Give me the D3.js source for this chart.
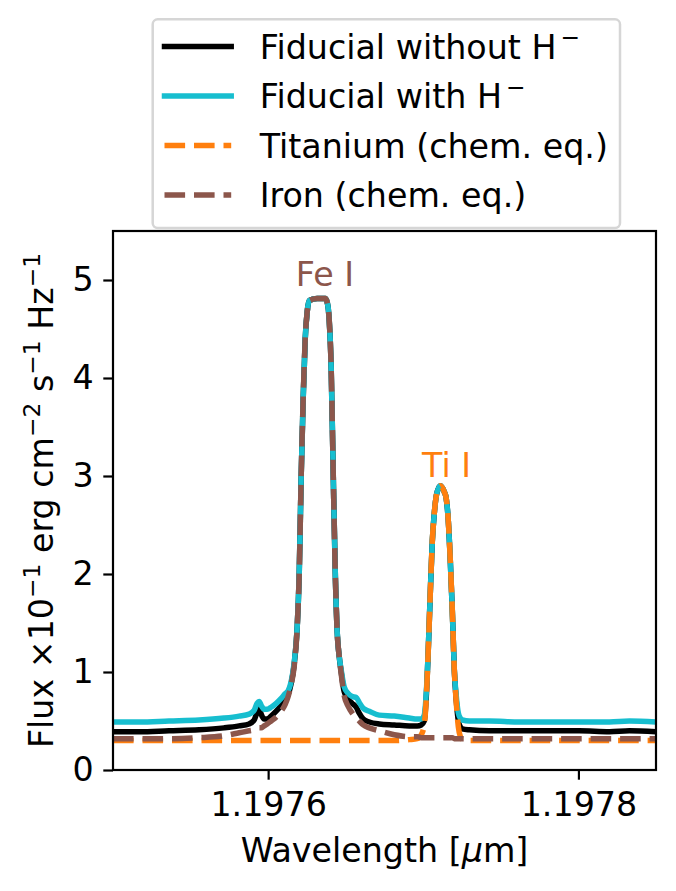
<!DOCTYPE html>
<html>
<head>
<meta charset="utf-8">
<script src="https://cdn.jsdelivr.net/npm/d3@7"></script>
<style>
  html, body { margin: 0; padding: 0; background: #fff; }
  svg { display: block; font-family: "DejaVu Sans", sans-serif; }
</style>
</head>
<body>
<div id="container"></div>
<script>
// Wavelength grid [micron] (denser around the lines)
const wavelength = [
  1.1975000, 1.1975168, 1.1975361, 1.1975555, 1.1975716, 1.1975813, 1.1975877, 1.1975910, 1.1975929, 1.1975942,
  1.1975955, 1.1975974, 1.1975994, 1.1976019, 1.1976052, 1.1976084, 1.1976110, 1.1976129, 1.1976148, 1.1976168,
  1.1976187, 1.1976200, 1.1976213, 1.1976226, 1.1976239, 1.1976252, 1.1976265, 1.1976316, 1.1976368, 1.1976381,
  1.1976394, 1.1976406, 1.1976419, 1.1976432, 1.1976445, 1.1976458, 1.1976471, 1.1976490, 1.1976516, 1.1976542,
  1.1976568, 1.1976587, 1.1976613, 1.1976652, 1.1976716, 1.1976813, 1.1976910, 1.1976961, 1.1976987, 1.1977006,
  1.1977019, 1.1977032, 1.1977045, 1.1977058, 1.1977071, 1.1977084, 1.1977097, 1.1977110, 1.1977123, 1.1977135,
  1.1977148, 1.1977161, 1.1977174, 1.1977187, 1.1977200, 1.1977213, 1.1977226, 1.1977239, 1.1977252, 1.1977297,
  1.1977426, 1.1977619, 1.1977813, 1.1978006, 1.1978200, 1.1978329, 1.1978500
];

// Flux x10^-1 erg cm^-2 s^-1 Hz^-1
const fluxWithoutHminus = [
  0.39, 0.39, 0.40, 0.41, 0.43, 0.45, 0.47, 0.51, 0.59, 0.63,
  0.57, 0.52, 0.52, 0.55, 0.60, 0.66, 0.72, 0.77, 0.88, 1.08,
  1.45, 1.98, 3.00, 3.80, 4.40, 4.68, 4.79, 4.81, 4.81, 4.77,
  4.58, 4.12, 3.07, 2.06, 1.41, 1.16, 1.00, 0.80, 0.72, 0.68,
  0.64, 0.58, 0.52, 0.49, 0.47, 0.46, 0.45, 0.45, 0.46, 0.50,
  0.74, 1.22, 1.80, 2.33, 2.62, 2.80, 2.87, 2.90, 2.88, 2.84,
  2.77, 2.55, 2.14, 1.63, 1.02, 0.70, 0.50, 0.44, 0.42, 0.41,
  0.40, 0.40, 0.40, 0.40, 0.39, 0.40, 0.39
];
const fluxWithHminus = [
  0.49, 0.49, 0.50, 0.51, 0.53, 0.55, 0.57, 0.61, 0.68, 0.70,
  0.66, 0.62, 0.62, 0.64, 0.68, 0.73, 0.78, 0.81, 0.90, 1.10,
  1.45, 1.98, 3.00, 3.80, 4.40, 4.68, 4.79, 4.81, 4.81, 4.77,
  4.58, 4.12, 3.07, 2.06, 1.41, 1.16, 1.02, 0.85, 0.78, 0.75,
  0.74, 0.69, 0.63, 0.60, 0.56, 0.55, 0.53, 0.52, 0.52, 0.56,
  0.78, 1.22, 1.80, 2.33, 2.62, 2.80, 2.87, 2.90, 2.88, 2.84,
  2.77, 2.55, 2.14, 1.63, 1.02, 0.75, 0.58, 0.53, 0.51, 0.50,
  0.50, 0.49, 0.49, 0.49, 0.49, 0.50, 0.49
];
const fluxTitanium = [
  0.30, 0.30, 0.30, 0.30, 0.30, 0.30, 0.30, 0.30, 0.30, 0.30,
  0.30, 0.30, 0.30, 0.30, 0.30, 0.30, 0.30, 0.30, 0.30, 0.30,
  0.30, 0.30, 0.30, 0.30, 0.30, 0.30, 0.30, 0.30, 0.30, 0.30,
  0.30, 0.30, 0.30, 0.30, 0.30, 0.30, 0.30, 0.30, 0.30, 0.30,
  0.30, 0.30, 0.30, 0.30, 0.30, 0.30, 0.31, 0.32, 0.36, 0.46,
  0.72, 1.22, 1.80, 2.33, 2.62, 2.80, 2.87, 2.90, 2.88, 2.84,
  2.77, 2.55, 2.14, 1.63, 1.02, 0.68, 0.44, 0.34, 0.31, 0.30,
  0.30, 0.30, 0.30, 0.30, 0.30, 0.30, 0.30
];
const fluxIron = [
  0.32, 0.32, 0.32, 0.33, 0.35, 0.38, 0.40, 0.41, 0.42, 0.43,
  0.43, 0.45, 0.47, 0.50, 0.54, 0.60, 0.67, 0.75, 0.87, 1.06,
  1.45, 1.98, 3.00, 3.80, 4.40, 4.68, 4.79, 4.81, 4.81, 4.77,
  4.58, 4.12, 3.07, 2.06, 1.41, 1.16, 0.98, 0.76, 0.65, 0.58,
  0.53, 0.50, 0.46, 0.43, 0.40, 0.36, 0.34, 0.34, 0.33, 0.33,
  0.33, 0.33, 0.33, 0.33, 0.33, 0.33, 0.33, 0.33, 0.33, 0.33,
  0.33, 0.33, 0.33, 0.33, 0.32, 0.32, 0.32, 0.32, 0.32, 0.32,
  0.32, 0.32, 0.32, 0.32, 0.32, 0.32, 0.32
];

const seriesNames = ["Fiducial without H", "Fiducial with H", "Titanium (chem. eq.)", "Iron (chem. eq.)"];
const seriesSup = ["\u2212", "\u2212", "", ""];
const xTicks = [1.1976, 1.1978];
const yTicks = [0, 1, 2, 3, 4, 5];

// Chart dimensions
const width = 676;
const height = 891;
const marginTop = 231;
const marginRight = 20;
const marginBottom = 121;
const marginLeft = 113;
const fs = 33.3;
const lw = 5.5;
const dash = "20.6,8.9";

const x = d3.scaleLinear()
  .domain([1.1975, 1.19785])
  .range([marginLeft, width - marginRight]);

const y = d3.scaleLinear()
  .domain([0, 5.5])
  .range([height - marginBottom, marginTop]);

const svg = d3.create("svg").attr("width", width).attr("height", height);
document.getElementById("container").appendChild(svg.node());

svg.append("defs").append("clipPath").attr("id", "plot-clip")
  .append("rect")
  .attr("x", marginLeft).attr("y", marginTop)
  .attr("width", width - marginRight - marginLeft)
  .attr("height", height - marginBottom - marginTop);

const series = [
  { values: fluxWithoutHminus, color: "#000000", dash: null },
  { values: fluxWithHminus, color: "#17becf", dash: null },
  { values: fluxTitanium, color: "#ff7f0e", dash: dash },
  { values: fluxIron, color: "#8c564b", dash: dash }
];

const line = d3.line()
  .curve(d3.curveMonotoneX)
  .x((d) => x(d[0]))
  .y((d) => y(d[1]));

const plot = svg.append("g").attr("clip-path", "url(#plot-clip)");
series.forEach((s) => {
  plot.append("path")
    .datum(wavelength.map((w, i) => [w, s.values[i]]))
    .attr("fill", "none")
    .attr("stroke", s.color)
    .attr("stroke-width", lw)
    .attr("stroke-linejoin", "round")
    .attr("stroke-dasharray", s.dash)
    .attr("d", line);
});

// line labels
svg.append("text")
  .attr("x", x(1.1976366)).attr("y", y(4.94))
  .attr("text-anchor", "middle")
  .attr("font-size", fs)
  .attr("fill", "#8c564b")
  .text("Fe I");
svg.append("text")
  .attr("x", x(1.1977150)).attr("y", y(2.99))
  .attr("text-anchor", "middle")
  .attr("font-size", fs)
  .attr("fill", "#ff7f0e")
  .text("Ti I");

// axes
const xAxis = svg.append("g")
  .attr("transform", `translate(0,${height - marginBottom})`)
  .call(d3.axisBottom(x).tickValues(xTicks).tickFormat((d) => d.toFixed(4))
    .tickSize(9.7).tickPadding(13).tickSizeOuter(0));
const yAxis = svg.append("g")
  .attr("transform", `translate(${marginLeft},0)`)
  .call(d3.axisLeft(y).tickValues(yTicks).tickFormat(d3.format("d"))
    .tickSize(9.7).tickPadding(9.7).tickSizeOuter(0));

[xAxis, yAxis].forEach((g) => {
  g.select(".domain").remove();
  g.attr("font-size", fs).attr("font-family", "DejaVu Sans, sans-serif");
  g.selectAll(".tick line").attr("stroke", "#000").attr("stroke-width", 2.2);
  g.selectAll(".tick text").attr("fill", "#000");
});

// frame
svg.append("rect")
  .attr("x", marginLeft).attr("y", marginTop)
  .attr("width", width - marginRight - marginLeft)
  .attr("height", height - marginBottom - marginTop)
  .attr("fill", "none")
  .attr("stroke", "#000")
  .attr("stroke-width", 2.2);

// axis labels
svg.append("text")
  .attr("x", (marginLeft + width - marginRight) / 2)
  .attr("y", 862)
  .attr("text-anchor", "middle")
  .attr("font-size", fs)
  .html('Wavelength [<tspan font-style="italic">\u03bc</tspan>m]');

const yLabelParts = [
  ["Flux \u00d710", false], ["\u22121", true], [" erg cm", false], ["\u22122", true],
  [" s", false], ["\u22121", true], [" Hz", false], ["\u22121", true]
];
const yLabel = svg.append("text")
  .attr("transform", `translate(53,${(marginTop + height - marginBottom) / 2}) rotate(-90)`)
  .attr("text-anchor", "middle")
  .attr("font-size", fs);
let raised = false;
yLabelParts.forEach(([t, sup]) => {
  const ts = yLabel.append("tspan").text(t);
  if (sup && !raised) { ts.attr("dy", -0.4 * fs).attr("font-size", fs * 0.7); raised = true; }
  else if (sup) { ts.attr("font-size", fs * 0.7); }
  else if (raised) { ts.attr("dy", 0.4 * fs); raised = false; }
});

// legend
const legend = svg.append("g");
legend.append("rect")
  .attr("x", 152.7).attr("y", 19.3)
  .attr("width", 467.3).attr("height", 208.7)
  .attr("rx", 5)
  .attr("fill", "#fff")
  .attr("fill-opacity", 0.8)
  .attr("stroke", "#d6d6d6")
  .attr("stroke-width", 2.5);

series.forEach((s, i) => {
  const cy = 46.5 + i * 49.5;
  legend.append("line")
    .attr("x1", 164.5).attr("x2", 231.2)
    .attr("y1", cy).attr("y2", cy)
    .attr("stroke", s.color)
    .attr("stroke-width", lw)
    .attr("stroke-linecap", s.dash ? "butt" : "square")
    .attr("stroke-dasharray", s.dash);
  const t = legend.append("text")
    .attr("x", 259.7).attr("y", cy + 12)
    .attr("font-size", fs)
    .attr("fill", "#000");
  t.append("tspan").text(seriesNames[i]);
  if (seriesSup[i]) {
    t.append("tspan").attr("dx", 4).attr("dy", -0.4 * fs).attr("font-size", fs * 0.7).text(seriesSup[i]);
  }
});
</script>
</body>
</html>
